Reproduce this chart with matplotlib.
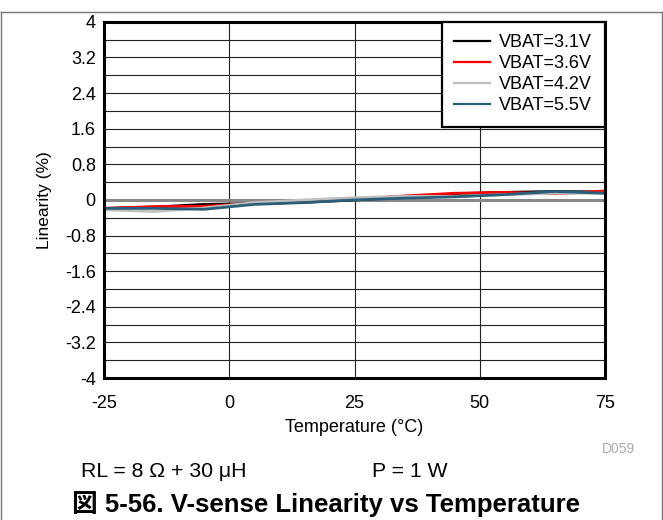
import numpy as np
import matplotlib
matplotlib.use("Agg")
from matplotlib import pyplot as plt
from matplotlib.lines import Line2D

temp = [-25, -15, -5, 5, 15, 25, 35, 45, 55, 65, 75]
vbat31 = [-0.19, -0.16, -0.10, -0.08, -0.05, 0.00, 0.06, 0.14, 0.17, 0.19, 0.18]
vbat36 = [-0.19, -0.15, -0.14, -0.08, -0.05, 0.02, 0.09, 0.15, 0.17, 0.14, 0.20]
vbat42 = [-0.22, -0.26, -0.18, -0.06, 0.00, 0.05, 0.08, 0.08, 0.12, 0.15, 0.15]
vbat55 = [-0.19, -0.19, -0.21, -0.10, -0.06, 0.00, 0.04, 0.07, 0.12, 0.19, 0.15]

names = ["VBAT=3.1V", "VBAT=3.6V", "VBAT=4.2V", "VBAT=5.5V"]
colors = ["#000000", "#ff0000", "#bfbfbf", "#2a5f7a"]

xticks = [-25, 0, 25, 50, 75]
yticks = [-4, -3.2, -2.4, -1.6, -0.8, 0, 0.8, 1.6, 2.4, 3.2, 4]
ylabels = ["-4", "-3.2", "-2.4", "-1.6", "-0.8", "0", "0.8", "1.6", "2.4", "3.2", "4"]

font = ["Liberation Sans", "DejaVu Sans"]
plt.rcParams['font.family'] = font
plt.rcParams['axes.unicode_minus'] = False

fig = plt.figure(figsize=(6.63, 5.2), dpi=100)
ax = fig.add_axes([0.157, 0.273, 0.7555, 0.685])

ax.set_xlim(-25, 75)
ax.set_ylim(-4, 4)
ax.set_xticks(xticks)
ax.set_yticks(yticks)
ax.set_yticklabels(ylabels)
ax.set_yticks(np.arange(-3.6, 4, 0.8), minor=True)
ax.tick_params(which="both", length=0)
ax.tick_params(axis="x", pad=12, labelsize=13)
ax.tick_params(axis="y", pad=6, labelsize=13)
ax.grid(True, which="both", color="#222222", linewidth=0.8)
ax.axhline(0, color="#888888", linewidth=2.2, zorder=2)
for s in ax.spines.values():
    s.set_linewidth(2.2)
    s.set_zorder(5)

for ys, c, n in zip([vbat31, vbat36, vbat42, vbat55], colors, names):
    ax.plot(temp, ys, color=c, linewidth=2, label=n, zorder=3)

leg = ax.legend(loc="upper right", fontsize=13, frameon=True, fancybox=False,
                edgecolor="black", framealpha=1, borderaxespad=0,
                borderpad=0.7, handlelength=2.0, handletextpad=0.5,
                labelspacing=0.22)
leg.get_frame().set_linewidth(1.6)
for h in leg.get_lines():
    h.set_linewidth(1.6)

ax.set_xlabel("Temperature (\u00b0C)", fontsize=13, labelpad=5.5)
ax.set_ylabel("Linearity (%)", fontsize=12.5, labelpad=9)

fig.text(0.958, 0.129, "D059", fontsize=10, color="#aaaaaa", ha="right", va="baseline")
fig.text(0.122, 0.083, "RL = 8 \u03a9 + 30 \u03bcH", fontsize=15.3, va="baseline")
fig.text(0.561, 0.083, "P = 1 W", fontsize=15.3, va="baseline")
fig.text(0.108, 0.016, "\u56f3 5-56. V-sense Linearity vs Temperature", fontsize=18.5,
         fontweight="bold", va="baseline", family=["Liberation Sans", "Noto Sans CJK JP"])

for xs, ys in [([0.002, 0.002], [0, 0.977]), ([0.002, 0.998], [0.977, 0.977]),
               ([0.998, 0.998], [0, 0.977])]:
    fig.add_artist(Line2D(xs, ys, color="#777777", linewidth=1, transform=fig.transFigure))

fig.savefig("out.png", dpi=100)
